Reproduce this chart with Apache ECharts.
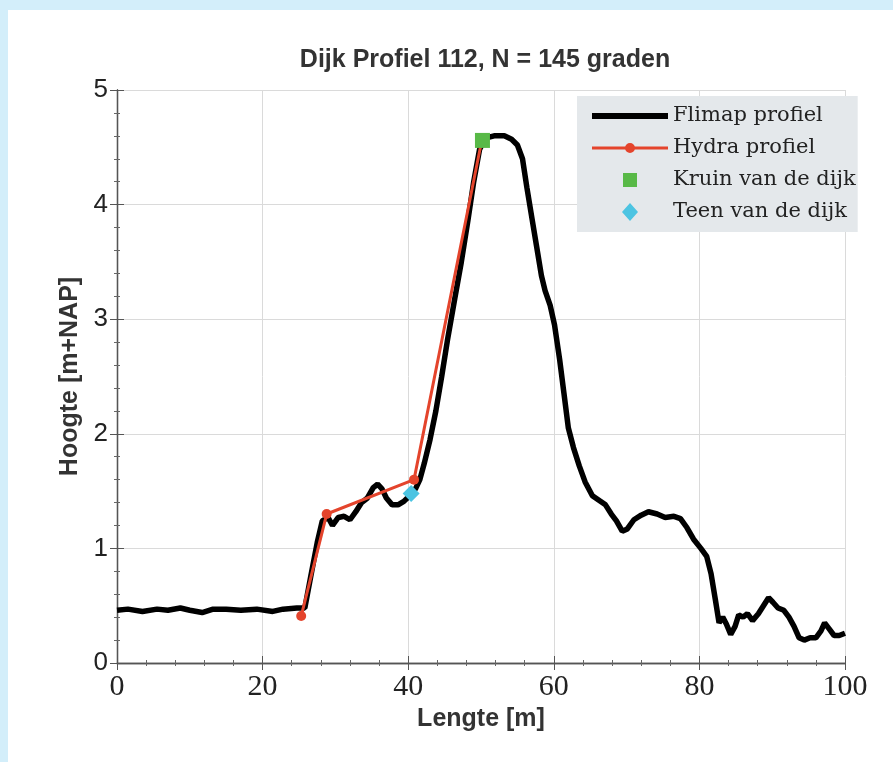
<!DOCTYPE html>
<html>
<head>
<meta charset="utf-8">
<title>Dijk Profiel 112</title>
<script src="https://cdn.jsdelivr.net/npm/echarts@6/dist/echarts.min.js"></script>
<style>
  html, body { margin: 0; padding: 0; background: #d3eefa; }
  #main { position: absolute; left: 8px; top: 10px; width: 885px; height: 752px; background: #fff; }
</style>
</head>
<body>
<div id="main"></div>
<script>
// Flimap profiel: lengte [m] en hoogte [m+NAP]
const flimapLengte = [0, 1.5, 3.5, 5.5, 7, 8.7, 10, 11.7, 13.2, 15, 17, 19.2, 21.4, 22.8, 24.7, 25.8,
  26.6, 27.5, 28.2, 29, 29.6, 30.4, 31.2, 32, 32.8, 33.6, 34.4, 35.2, 35.8, 36.4, 37, 37.8, 38.6, 39.4,
  40.2, 41, 41.6, 42.2, 43, 43.8, 44.6, 45.4, 46.4, 47.3, 48.2, 49, 49.8, 50.6, 51.8, 53.2, 54.2, 55,
  55.7, 56.3, 57, 57.6, 58.3, 58.8, 59.5, 60.1, 60.8, 61.4, 62, 62.7, 63.5, 64.3, 65.3, 66.2, 67.1,
  67.9, 68.6, 69.4, 70.1, 71, 72, 73, 74.2, 75.3, 76.5, 77.4, 78.3, 79.2, 80.2, 81, 81.6, 82.2, 82.7,
  83.2, 83.7, 84.3, 84.9, 85.4, 86, 86.6, 87.3, 88.1, 88.8, 89.5, 90.1, 90.8, 91.6, 92.3, 93, 93.7,
  94.4, 95.2, 96, 96.7, 97.2, 97.8, 98.5, 99.2, 100]
const flimapHoogte = [0.46, 0.47, 0.45, 0.47, 0.46, 0.48, 0.46, 0.44, 0.47, 0.47, 0.46, 0.47, 0.45, 0.47, 0.48, 0.48,
  0.75, 1.05, 1.24, 1.27, 1.2, 1.27, 1.28, 1.25, 1.32, 1.4, 1.44, 1.53, 1.56, 1.52, 1.44, 1.38, 1.38, 1.41,
  1.46, 1.52, 1.6, 1.74, 1.95, 2.2, 2.5, 2.82, 3.18, 3.5, 3.86, 4.2, 4.48, 4.58, 4.6, 4.6, 4.57, 4.52,
  4.4, 4.15, 3.88, 3.65, 3.38, 3.25, 3.12, 2.95, 2.65, 2.35, 2.05, 1.88, 1.72, 1.58, 1.46, 1.42, 1.38,
  1.3, 1.24, 1.15, 1.17, 1.25, 1.29, 1.32, 1.3, 1.27, 1.28, 1.26, 1.18, 1.08, 1.0, 0.93, 0.78, 0.55, 0.35,
  0.4, 0.34, 0.25, 0.32, 0.42, 0.4, 0.43, 0.37, 0.43, 0.5, 0.57, 0.53, 0.48, 0.46, 0.4, 0.32, 0.22,
  0.2, 0.22, 0.22, 0.28, 0.35, 0.3, 0.24, 0.24, 0.26]

// Hydra profiel
const hydraLengte = [25.3, 28.8, 40.8, 50.1]
const hydraHoogte = [0.41, 1.30, 1.60, 4.56]

// kruin en teen van de dijk
const kruinLengte = [50.2]
const kruinHoogte = [4.56]
const teenLengte = [40.4]
const teenHoogte = [1.48]

const xTicks = [0, 20, 40, 60, 80, 100]
const yTicks = [0, 1, 2, 3, 4, 5]

const pairs = (xs, ys) => xs.map((x, i) => [x, ys[i]])

// legend iconen: 76 x 18 box, met onzichtbare hoekpunten zodat niets uitrekt
const edges = ' M0,9L0,9.01L0.01,9Z M76,9L76,9.01L75.99,9Z M38,0L38.01,0L38,0.01Z M38,18L38.01,18L38,17.99Z'
const iconBlackLine = 'path://M0,6h76v6h-76z' + edges
const iconRedLine = 'path://M0,7.5h76v3h-76z M43,9a5,5 0 1,1 -10,0a5,5 0 1,1 10,0z' + edges
const iconSquare = 'path://M31,2h14v14h-14z' + edges
const iconDiamond = 'path://M38,0L46,9L38,18L30,9Z' + edges

const axisLine = { lineStyle: { color: '#555', width: 1.3 } }
const tickIn = { inside: true, length: 7, lineStyle: { color: '#555' } }
const minorIn = { show: true, splitNumber: 5, length: 3, lineStyle: { color: '#666' } }

const xBase = {
  type: 'value',
  min: xTicks[0],
  max: xTicks[xTicks.length - 1],
  interval: xTicks[1] - xTicks[0],
  axisLine,
  axisTick: tickIn,
  minorTick: minorIn
}
const yBase = {
  type: 'value',
  min: yTicks[0],
  max: yTicks[yTicks.length - 1],
  interval: yTicks[1] - yTicks[0],
  axisLine,
  axisTick: tickIn,
  minorTick: minorIn
}

const nameFont = { fontFamily: 'Liberation Sans', fontSize: 25, fontWeight: 'bold', color: '#333' }

const chart = echarts.init(document.getElementById('main'))
chart.setOption({
  animation: false,
  title: {
    text: 'Dijk Profiel 112, N = 145 graden',
    left: 472,
    top: 33,
    textAlign: 'center',
    textStyle: nameFont
  },
  legend: {
    orient: 'vertical',
    left: 569,
    top: 86,
    padding: [9, 2, 9, 15],
    backgroundColor: '#e4e8eb',
    itemWidth: 76,
    itemHeight: 18,
    itemGap: 10,
    symbolKeepAspect: true,
    itemStyle: { borderWidth: 0 },
    textStyle: { fontFamily: 'DejaVu Serif', fontSize: 21, color: '#222', lineHeight: 22 },
    data: [
      { name: 'Flimap profiel', icon: iconBlackLine },
      { name: 'Hydra profiel', icon: iconRedLine },
      { name: 'Kruin van de dijk', icon: iconSquare },
      { name: 'Teen van de dijk', icon: iconDiamond }
    ]
  },
  grid: { left: 109, right: 48, top: 80, bottom: 99 },
  xAxis: [
    Object.assign({}, xBase, {
      position: 'bottom',
      name: 'Lengte [m]',
      nameLocation: 'middle',
      nameGap: 40,
      nameTextStyle: nameFont,
      axisLabel: { fontFamily: 'Liberation Serif', fontSize: 30, color: '#222', margin: 9 },
      splitLine: { show: true, lineStyle: { color: '#dadada', width: 1 } }
    }),
    Object.assign({}, xBase, {
      position: 'top',
      axisLabel: { show: false },
      splitLine: { show: false }
    })
  ],
  yAxis: [
    Object.assign({}, yBase, {
      position: 'left',
      name: 'Hoogte [m+NAP]',
      nameLocation: 'middle',
      nameGap: 34,
      nameTextStyle: nameFont,
      axisLabel: { fontFamily: 'Liberation Sans', fontSize: 26, color: '#222', margin: 9 },
      splitLine: { show: true, lineStyle: { color: '#dadada', width: 1 } }
    }),
    Object.assign({}, yBase, {
      position: 'right',
      axisLabel: { show: false },
      splitLine: { show: false }
    })
  ],
  series: [
    {
      name: 'Flimap profiel',
      type: 'line',
      data: pairs(flimapLengte, flimapHoogte),
      showSymbol: false,
      symbol: 'none',
      lineStyle: { color: '#000', width: 5.5 },
      itemStyle: { color: '#000' },
      z: 2
    },
    {
      name: 'Hydra profiel',
      type: 'line',
      data: pairs(hydraLengte, hydraHoogte),
      symbol: 'circle',
      symbolSize: 10,
      lineStyle: { color: '#e4442c', width: 3 },
      itemStyle: { color: '#e4442c' },
      z: 3
    },
    {
      name: 'Kruin van de dijk',
      type: 'scatter',
      data: pairs(kruinLengte, kruinHoogte),
      symbol: 'rect',
      symbolSize: 15,
      itemStyle: { color: '#58b947', opacity: 1 },
      z: 4
    },
    {
      name: 'Teen van de dijk',
      type: 'scatter',
      data: pairs(teenLengte, teenHoogte),
      symbol: 'diamond',
      symbolSize: 17,
      itemStyle: { color: '#4cc4e2', opacity: 1 },
      z: 4
    }
  ]
})
</script>
</body>
</html>
